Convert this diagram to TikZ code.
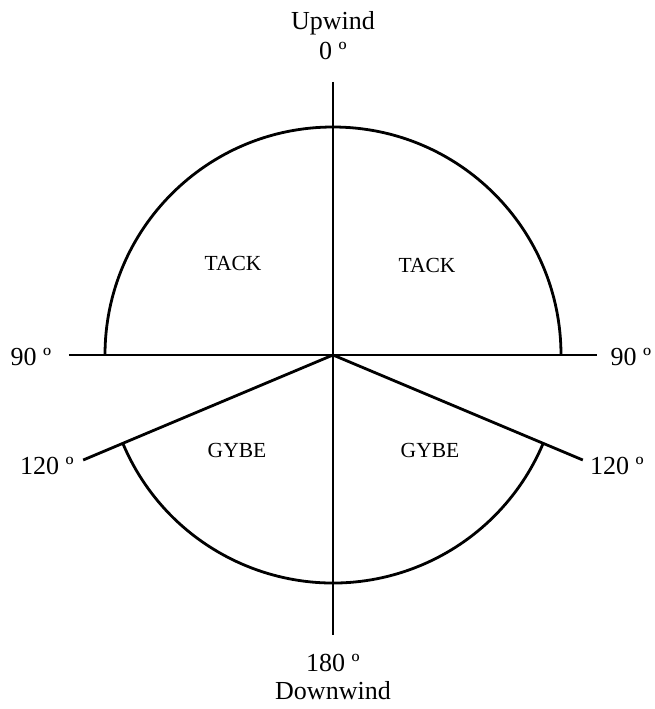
\documentclass[tikz,border=0pt]{standalone}
\usepackage{fontspec}
\setmainfont{Liberation Serif}
\usetikzlibrary{positioning, calc}

\begin{document}
\begin{tikzpicture}[
    x=1pt, y=1pt,
    dirtext/.style={inner sep=0pt, font=\fontsize{26}{28}\selectfont},
    zonetext/.style={inner sep=0pt, font=\fontsize{21.5}{24}\selectfont},
    axis/.style={line width=2.8pt, line cap=butt}
]
    \useasboundingbox (-333,-354) rectangle (321,355);

    % centre and axis ends
    \coordinate (c)     at (0,0);
    \coordinate (up)    at (0,273);
    \coordinate (down)  at (0,-280);
    \coordinate (west)  at (-264,0);
    \coordinate (east)  at (264,0);
    \coordinate (gwest) at (202.8:271);
    \coordinate (geast) at (337.2:271);

    % axes
    \draw[axis] (up) -- (down);
    \draw[axis] (west) -- (east);
    \draw[axis] (c) -- (gwest);
    \draw[axis] (c) -- (geast);

    % arcs
    \draw[axis] (180:228) arc[start angle=180, end angle=0, radius=228];
    \draw[axis] (202.8:228) arc[start angle=202.8, end angle=337.2, radius=228];

    % direction labels
    \node[dirtext] (upwind)   at (0,332)     {Upwind};
    \node[dirtext] (deg0)     at (0,304)     {0 º};
    \node[dirtext] (deg90w)   at (-302,-2)   {90 º};
    \node[dirtext] (deg90e)   at (298,-2)    {90 º};
    \node[dirtext] (deg120w)  at (-286,-111) {120 º};
    \node[dirtext] (deg120e)  at (284,-111)  {120 º};
    \node[dirtext] (deg180)   at (0,-308)    {180 º};
    \node[dirtext] (downwind) at (0,-336)    {Downwind};

    % manoeuvre zones
    \node[zonetext] (tackw) at (-100,92) {TACK};
    \node[zonetext] (tacke) at (94,90)   {TACK};
    \node[zonetext] (gybew) at (-96,-95) {GYBE};
    \node[zonetext] (gybee) at (97,-95)  {GYBE};
\end{tikzpicture}
\end{document}
